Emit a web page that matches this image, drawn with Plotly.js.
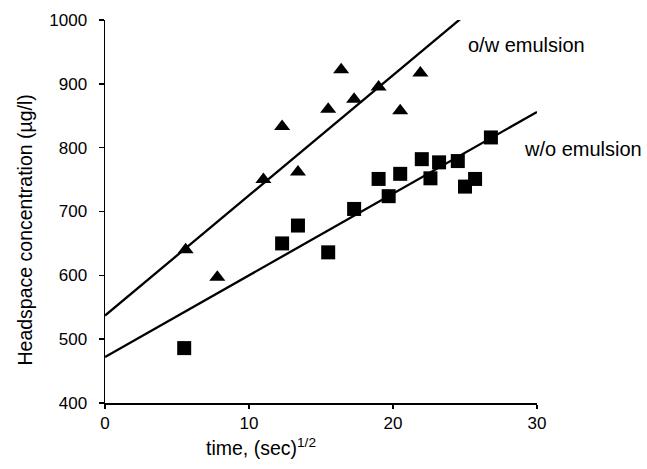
<!DOCTYPE html>
<html>
<head>
<meta charset="utf-8">
<script src="https://cdn.plot.ly/plotly-3.0.1.min.js"></script>
<style>html,body{margin:0;padding:0;background:#fff;}#chart{width:647px;height:469px;}</style>
</head>
<body>
<div id="chart"></div>
<script>
// o/w emulsion (triangles)
const owTime = [5.6, 7.8, 11.0, 12.3, 13.4, 15.5, 16.4, 17.3, 19.0, 20.5, 21.9];
const owConc = [640, 597, 750, 833, 762, 860, 922, 876, 895, 858, 917];
// w/o emulsion (squares)
const woTime = [5.5, 12.3, 13.4, 15.5, 17.3, 19.0, 19.7, 20.5, 22.0, 22.6, 23.2, 24.5, 25.0, 25.7, 26.8];
const woConc = [486, 650, 678, 636, 704, 751, 724, 759, 782, 752, 777, 779, 739, 751, 816];
// fitted lines (endpoints)
const owFitTime = [0, 24.7];
const owFitConc = [537, 1002];
const woFitTime = [0, 30];
const woFitConc = [472, 856];
const xTicks = [0, 10, 20, 30];
const yTicks = [400, 500, 600, 700, 800, 900, 1000];

const font = "Liberation Sans, Arial, Helvetica, sans-serif";
const traces = [
  {x: owFitTime, y: owFitConc, mode: 'lines', line: {color: '#000', width: 2.3}, cliponaxis: false, hoverinfo: 'skip'},
  {x: woFitTime, y: woFitConc, mode: 'lines', line: {color: '#000', width: 2.3}, cliponaxis: false, hoverinfo: 'skip'},
  {x: owTime, y: owConc, mode: 'markers', marker: {symbol: 'triangle-up', size: 14, color: '#000'}},
  {x: woTime, y: woConc, mode: 'markers', marker: {symbol: 'square', size: 14, color: '#000'}}
];
const layout = {
  width: 647, height: 469,
  margin: {l: 104.5, r: 110.3, t: 20, b: 66},
  paper_bgcolor: '#fff', plot_bgcolor: '#fff',
  showlegend: false,
  font: {family: font, color: '#000', size: 17},
  xaxis: {
    range: [0, 30], tickvals: xTicks, ticktext: xTicks.map(String),
    showgrid: false, zeroline: false, showline: true, linecolor: '#000', linewidth: 1.5,
    ticks: 'outside', ticklen: 4, tickwidth: 1.5, tickcolor: '#000',
    tickfont: {size: 17, family: font}
  },
  yaxis: {
    range: [400, 1000], tickvals: yTicks, ticktext: yTicks.map(String),
    showgrid: false, zeroline: false, showline: true, linecolor: '#000', linewidth: 1.5,
    ticks: 'outside', ticklen: 5, tickwidth: 1.5, tickcolor: '#000',
    tickfont: {size: 17, family: font}, ticklabelstandoff: 8
  },
  annotations: [
    {text: 'time, (sec)<sup>1/2</sup>', xref: 'paper', yref: 'paper', x: 0.362, y: -0.115, xanchor: 'center', yanchor: 'middle', showarrow: false, font: {size: 19.5, family: font}},
    {text: 'Headspace concentration (µg/l)', xref: 'paper', yref: 'paper', x: -0.186, y: 0.452, xanchor: 'center', yanchor: 'middle', textangle: -90, showarrow: false, font: {size: 19.5, family: font}},
    {text: 'o/w emulsion', xref: 'x', yref: 'y', x: 25.07, y: 961, xanchor: 'left', yanchor: 'middle', showarrow: false, font: {size: 20, family: font}},
    {text: 'w/o emulsion', xref: 'x', yref: 'y', x: 28.93, y: 798, xanchor: 'left', yanchor: 'middle', showarrow: false, font: {size: 20, family: font}}
  ]
};
Plotly.newPlot('chart', traces, layout, {staticPlot: true, displayModeBar: false});
</script>
</body>
</html>
